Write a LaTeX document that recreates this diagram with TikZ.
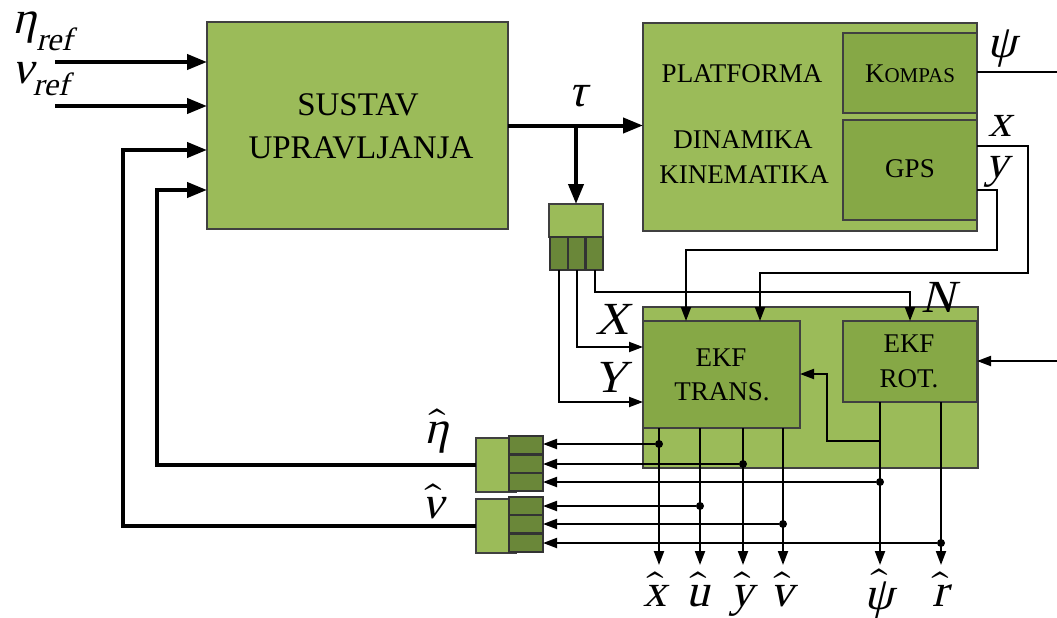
\documentclass[tikz,border=0pt]{standalone}
\usepackage{amsmath}
\usepackage{fontspec}
\setmainfont{Liberation Serif}
\newfontfamily\mif{Liberation Serif}[FakeSlant=0.24]
\usepackage{unicode-math}
\setmathfont{Latin Modern Math}
\usetikzlibrary{arrows.meta}
\definecolor{lg}{RGB}{155,187,89}
\definecolor{mg}{RGB}{134,168,70}
\definecolor{dg}{RGB}{106,135,57}
\definecolor{bordc}{RGB}{64,64,64}
\newcommand{\mi}[1]{\text{\mif #1}}
\tikzset{
  box/.style={draw=bordc, line width=1.2pt, fill=lg, inner sep=0pt, outer sep=0pt, anchor=north west},
  ibox/.style={box, fill=mg},
  sbox/.style={box, fill=dg, draw=black!80},
  txt/.style={inner sep=0pt, anchor=base, font=\fontsize{27}{34}\selectfont},
  btxt/.style={inner sep=0pt, anchor=base, font=\fontsize{33}{43}\selectfont},
  mlab/.style={inner sep=0pt, anchor=base, font=\fontsize{46}{46}\selectfont},
  thk/.style={line width=4pt, -{Triangle[length=20pt,width=15pt]}},
  thn/.style={line width=2pt, -{Triangle[length=14pt,width=10pt]}},
  thnn/.style={line width=2pt},
  dot/.style={circle, fill=black, inner sep=0pt, minimum size=8pt},
}
\begin{document}
\begin{tikzpicture}[x=1pt,y=-1pt]
\useasboundingbox (0,0) rectangle (1057,618);
% main boxes
\node[box, minimum width=301pt, minimum height=207pt] (sus) at (207,22) {};
\node[btxt] (t1) at (358,115) {SUSTAV};
\node[btxt] (t2) at (361,158) {UPRAVLJANJA};
\node[box, minimum width=334pt, minimum height=208pt] (plat) at (643,23) {};
\node[ibox, minimum width=134pt, minimum height=80pt] (komp) at (843,33) {};
\node[ibox, minimum width=134pt, minimum height=100pt] (gps) at (843,120) {};
\node[txt] (tkomp) at (910,82) {K{\fontsize{21}{21}\selectfont OMPAS}};
\node[txt] (tgps) at (910,177) {GPS};
\node[txt] (tplat) at (742,82) {PLATFORMA};
\node[txt] (tdin) at (743,148) {DINAMIKA};
\node[txt] (tkin) at (744,183) {KINEMATIKA};
\node[box, minimum width=335pt, minimum height=161pt] (est) at (643,307) {};
\node[ibox, minimum width=157pt, minimum height=107pt] (ekft) at (643,321) {};
\node[ibox, minimum width=134pt, minimum height=81pt] (ekfr) at (843,321) {};
\node[txt] (te1) at (721,366) {EKF};
\node[txt] (te2) at (722,400) {TRANS.};
\node[txt] (te3) at (909,352) {EKF};
\node[txt] (te4) at (909,387) {ROT.};
% demux
\node[box, minimum width=54pt, minimum height=33pt] (dmx) at (549,204) {};
\node[sbox, minimum width=18pt, minimum height=33pt] (d1) at (550,237) {};
\node[sbox, minimum width=17pt, minimum height=33pt] (d2) at (568,237) {};
\node[sbox, minimum width=17pt, minimum height=33pt] (d3) at (586,237) {};
% mux boxes
\node[box, minimum width=40pt, minimum height=54pt] (mxa) at (476,438) {};
\node[sbox, minimum width=34pt, minimum height=18pt] (a1) at (509,436) {};
\node[sbox, minimum width=34pt, minimum height=18pt] (a2) at (509,455) {};
\node[sbox, minimum width=34pt, minimum height=18pt] (a3) at (509,473) {};
\node[box, minimum width=40pt, minimum height=54pt] (mxb) at (476,499) {};
\node[sbox, minimum width=34pt, minimum height=18pt] (b1) at (509,497) {};
\node[sbox, minimum width=34pt, minimum height=18pt] (b2) at (509,515) {};
\node[sbox, minimum width=34pt, minimum height=18pt] (b3) at (509,534) {};
% reference inputs
\coordinate (etain) at (55,62);
\coordinate (nuin) at (55,106);
\draw[thk] (etain) -- (etain -| sus.west);
\draw[thk] (nuin) -- (nuin -| sus.west);
\node[mlab, anchor=base west] (leta) at (12,34) {$\mi{η}_{\mi{ref}}$};
\node[mlab, anchor=base west] (lnu) at (12,84) {$\mi{ν}_{\mi{ref}}$};
% feedback
\coordinate (fba) at (123,150);
\coordinate (fbb) at (157,190);
\draw[thk] (mxb.west) -| (fba) -- (fba -| sus.west);
\draw[thk] (mxa.west) -| (fbb) -- (fbb -| sus.west);
\node[mlab] (leh) at (437,443) {$\hat{\mi{η}}$};
\node[mlab] (lnh) at (433,518) {$\hat{\mi{ν}}$};
% tau
\coordinate (tbr) at (dmx.north |- sus.east);
\draw[thk] (sus.east) -- (sus.east -| plat.west);
\draw[thk] (tbr) -- (dmx.north);
\node[mlab] (ltau) at (578,106) {\mif τ};
% demux outputs
\coordinate (cy) at (559,402);
\coordinate (cx) at (577,347);
\coordinate (cn) at (910,292);
\draw[thn] (d1.south -| cy) -- (cy) -- (cy -| ekft.west);
\draw[thn] (d2.south -| cx) -- (cx) -- (cx -| ekft.west);
\draw[thn] (d3.south) |- (cn) -- (ekfr.north);
\node[mlab] (lX) at (612,334) {\mif X};
\node[mlab] (lY) at (610,392) {\mif Y};
\node[mlab] (lN) at (938,312) {\mif N};
% sensors
\coordinate (psiout) at (1057,72);
\draw[thnn] (komp.east |- psiout) -- (psiout);
\node[mlab] (lpsi) at (1002,58) {\mif ψ};
\coordinate (xa) at (1028,146);
\coordinate (xb) at (760,273);
\draw[thn] (gps.east |- xa) -- (xa) |- (xb) -- (xb |- ekft.north);
\node[mlab] (lx) at (1000,136) {\mif x};
\coordinate (ya) at (997,190);
\coordinate (yb) at (686,250);
\draw[thn] (gps.east |- ya) -- (ya) |- (yb) -- (yb |- ekft.north);
\node[mlab] (ly) at (997,177) {\mif y};
% right input
\coordinate (rin) at (1057,361);
\draw[thn] (rin) -- (rin -| ekfr.east);
% rot to trans
\coordinate (rt1) at (880,441);
\coordinate (rt2) at (827,374);
\draw[thn] (rt1) -- (rt1 -| rt2) -- (rt2) -- (rt2 -| ekft.east);
% outputs
\foreach \nm/\xx/\src/\lab/\yy/\lx/\by in {ox/659/ekft/{x}/444/655/606, ou/700/ekft/{u}/506/698/606, oy/743/ekft/{y}/464/742/606, ov/783/ekft/{v}/524/782/606, opsi/880/ekfr/{ψ}/482/879/609, or/941/ekfr/{r}/543/940/606}{
  \coordinate (\nm) at (\xx,565);
  \draw[thn] (\src.south -| \nm) -- (\nm);
  \node[mlab] (l\nm) at (\lx,\by) {$\hat{\mi{\lab}}$};
  \node[dot] (dot\nm) at (\xx,\yy) {};
}
\draw[thn] (dotox) -- (dotox -| a1.east);
\draw[thn] (dotoy) -- (dotoy -| a2.east);
\draw[thn] (dotopsi) -- (dotopsi -| a3.east);
\draw[thn] (dotou) -- (dotou -| b1.east);
\draw[thn] (dotov) -- (dotov -| b2.east);
\draw[thn] (dotor) -- (dotor -| b3.east);
\end{tikzpicture}
\end{document}
